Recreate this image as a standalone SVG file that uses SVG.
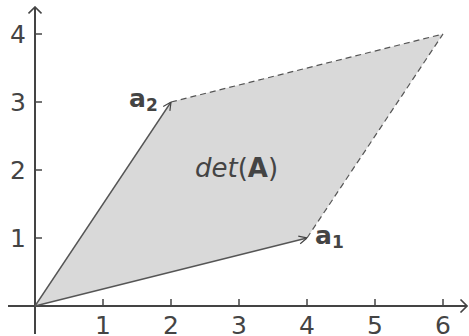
<svg xmlns="http://www.w3.org/2000/svg" width="469" height="336" viewBox="0 0 469 336">
<style>
text{font-family:"DejaVu Sans",sans-serif;fill:#444}
.tl{font-size:25px}
.ax{stroke:#444;stroke-width:2;fill:none}
.tk{stroke:#444;stroke-width:1.5}
.vec{stroke:#555;stroke-width:1.4;fill:none}
.dash{stroke:#555;stroke-width:1.2;stroke-dasharray:6,4;fill:none}
</style>
<defs>
<marker id="ah" viewBox="0 0 10 10" refX="10" refY="5" markerWidth="10" markerHeight="10" markerUnits="userSpaceOnUse" orient="auto"><path d="M2,1 L10,5 L2,9" fill="none" stroke="#444" stroke-width="1.2"/></marker>
<marker id="axh" viewBox="0 0 14 14" refX="13" refY="7" markerWidth="14" markerHeight="14" markerUnits="userSpaceOnUse" orient="auto"><path d="M6.5,0.5 L13,7 L6.5,13.5" fill="none" stroke="#444" stroke-width="1.6"/></marker>
</defs>
<g id="parallelogram">
<polygon points="35,306 307,238 443,34 171,102" fill="#d9d9d9"/>
</g>
<g id="axes">
<line class="ax" x1="8" y1="306" x2="467" y2="306" marker-end="url(#axh)"/>
<line class="ax" x1="35" y1="334" x2="35" y2="7" marker-end="url(#axh)"/>
<g class="tk">
<line x1="103" y1="299" x2="103" y2="306"/><line x1="171" y1="299" x2="171" y2="306"/><line x1="239" y1="299" x2="239" y2="306"/><line x1="307" y1="299" x2="307" y2="306"/><line x1="375" y1="299" x2="375" y2="306"/><line x1="443" y1="299" x2="443" y2="306"/>
<line x1="35" y1="238" x2="42" y2="238"/><line x1="35" y1="170" x2="42" y2="170"/><line x1="35" y1="102" x2="42" y2="102"/><line x1="35" y1="34" x2="42" y2="34"/>
</g>
<g class="tl" text-anchor="middle">
<text x="103" y="334">1</text><text x="171" y="334">2</text><text x="239" y="334">3</text><text x="307" y="334">4</text><text x="375" y="334">5</text><text x="443" y="334">6</text>
</g>
<g class="tl" text-anchor="end">
<text x="26" y="247">1</text><text x="26" y="179">2</text><text x="26" y="111">3</text><text x="26" y="43">4</text>
</g>
</g>
<g id="connectors">
<line class="vec" x1="35" y1="306" x2="307" y2="238" marker-end="url(#ah)"/>
<line class="vec" x1="35" y1="306" x2="171" y2="102" marker-end="url(#ah)"/>
<line class="dash" x1="307" y1="238" x2="443" y2="34"/>
<line class="dash" x1="171" y1="102" x2="443" y2="34"/>
</g>
<g id="a1"><text x="315" y="244" font-size="25" font-weight="bold">a<tspan font-size="17" dy="4">1</tspan></text></g>
<g id="a2"><text x="129" y="107" font-size="25" font-weight="bold">a<tspan font-size="17" dy="4">2</tspan></text></g>
<g id="det"><text x="236.5" y="177" font-size="26" text-anchor="middle"><tspan font-style="italic">det</tspan>(<tspan font-weight="bold">A</tspan>)</text></g>
</svg>
